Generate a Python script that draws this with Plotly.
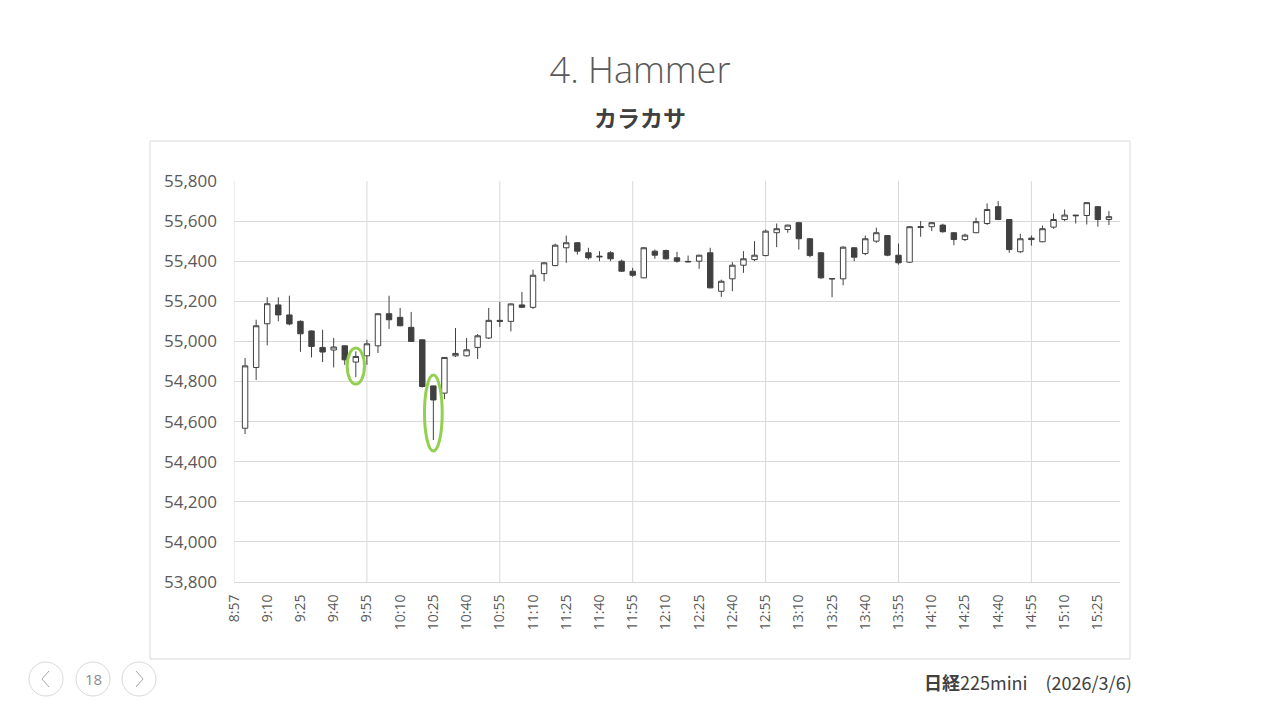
"""Hammer (カラカサ) candlestick slide, Nikkei 225 mini 5-minute bars."""

import plotly.graph_objects as go

# category axis: 8:57 (empty), 9:00 ... 15:30 bars, 15:35 (empty right edge)
bar_times = [f"{h}:{m:02d}" for h in range(9, 16) for m in range(0, 60, 5)][:79]
categories = ["8:57"] + bar_times + ["15:35"]
tick_labels = categories[0::3]
hour_grid = categories[0::12]

opens = [
    54567, 54870, 55088, 55182, 55132, 55100, 55052, 54970, 54957, 54978,
    54897, 54928, 54978, 55138, 55120, 55070, 55008, 54778, 54742, 54928,
    54928, 54970, 55017, 55105, 55100, 55182, 55170, 55338, 55378, 55467,
    55492, 55442, 55425, 55442, 55400, 55350, 55317, 55450, 55453, 55417,
    55399, 55400, 55442, 55250, 55312, 55380, 55408, 55428, 55542, 55558,
    55592, 55512, 55442, 55313, 55312, 55467, 55438, 55500, 55528, 55430,
    55395, 55568, 55572, 55580, 55542, 55508, 55542, 55588, 55672, 55608,
    55447, 55515, 55497, 55570, 55608, 55630, 55628, 55672, 55608,
]
highs = [
    54917, 55108, 55220, 55220, 55228, 55105, 55055, 55058, 55017, 54980,
    54950, 55008, 55140, 55228, 55167, 55147, 55010, 54780, 54922, 55067,
    55017, 55037, 55167, 55197, 55190, 55247, 55358, 55395, 55488, 55528,
    55495, 55467, 55450, 55450, 55408, 55367, 55470, 55458, 55458, 55447,
    55428, 55432, 55467, 55308, 55395, 55450, 55500, 55558, 55588, 55582,
    55595, 55515, 55445, 55315, 55475, 55470, 55528, 55567, 55530, 55488,
    55575, 55600, 55595, 55587, 55545, 55537, 55617, 55688, 55700, 55610,
    55537, 55528, 55578, 55638, 55658, 55631, 55695, 55675, 55650,
]
lows = [
    54538, 54808, 54980, 55100, 55080, 54948, 54920, 54897, 54870, 54883,
    54822, 54883, 54942, 55062, 55075, 54998, 54770, 54508, 54712, 54922,
    54925, 54912, 55012, 55072, 55050, 55168, 55162, 55300, 55375, 55392,
    55433, 55408, 55400, 55400, 55347, 55322, 55315, 55412, 55408, 55392,
    55395, 55362, 55265, 55222, 55250, 55342, 55400, 55425, 55470, 55542,
    55458, 55420, 55312, 55220, 55280, 55400, 55430, 55492, 55425, 55383,
    55392, 55522, 55550, 55542, 55480, 55500, 55540, 55580, 55605, 55442,
    55442, 55478, 55495, 55562, 55600, 55588, 55583, 55572, 55580,
]
closes = [
    54878, 55078, 55188, 55132, 55087, 55038, 54975, 54947, 54972, 54908,
    54925, 54988, 55138, 55108, 55078, 55000, 54775, 54708, 54920, 54940,
    54958, 55028, 55105, 55100, 55187, 55170, 55330, 55392, 55480, 55492,
    55450, 55417, 55422, 55412, 55350, 55330, 55467, 55430, 55412, 55400,
    55397, 55430, 55267, 55300, 55380, 55412, 55430, 55550, 55562, 55580,
    55512, 55428, 55317, 55312, 55470, 55420, 55512, 55542, 55430, 55392,
    55572, 55572, 55592, 55547, 55508, 55530, 55597, 55658, 55608, 55458,
    55512, 55508, 55562, 55608, 55630, 55627, 55692, 55608, 55622,
]
hammer_bars = ["9:50", "10:25"]

INK = "#404040"
TEXT = "#595959"
GRID = "#d9d9d9"

OFF = 8  # page body margin
# plot area in screen pixels (left, top, right, bottom)
L, T, R, B = 234, 181, 1120, 582


def px(x):
    return (x - L) / (R - L)


def py(y):
    return (B - y) / (B - T)


xpos = [categories.index(t) for t in bar_times]

fig = go.Figure(
    go.Candlestick(
        x=xpos,
        open=opens,
        high=highs,
        low=lows,
        close=closes,
        increasing=dict(fillcolor="white", line=dict(color=INK, width=1)),
        decreasing=dict(fillcolor=INK, line=dict(color=INK, width=1)),
        whiskerwidth=0,
        showlegend=False,
        hoverinfo="x+y",
    )
)

shapes = [
    # chart frame
    dict(type="rect", xref="paper", yref="paper", x0=px(150), x1=px(1130),
         y0=py(659), y1=py(141), line=dict(color="#d9d9d9", width=1), layer="below"),
]
for t in hour_grid:
    shapes.append(dict(type="line", xref="x", yref="paper", x0=categories.index(t),
                       x1=categories.index(t), y0=0, y1=1,
                       line=dict(color=GRID, width=1), layer="below"))

# green ellipses around hammer candles
pads = [(0.78, 35, 17), (0.8, 55, 52)]
for t, (dx, lo_pad, hi_pad) in zip(hammer_bars, pads):
    i = bar_times.index(t)
    xc = categories.index(t)
    shapes.append(dict(type="circle", xref="x", yref="y", x0=xc - dx, x1=xc + dx,
                       y0=lows[i] - lo_pad, y1=highs[i] + hi_pad,
                       line=dict(color="#92d050", width=3)))

# navigation circles and chevrons
for cx in (46, 93, 139):
    shapes.append(dict(type="circle", xref="paper", yref="paper",
                       x0=px(cx - 17), x1=px(cx + 17), y0=py(679 + 17), y1=py(679 - 17),
                       line=dict(color="#d9d9d9", width=1)))
for cx, d in ((46, 1), (139, -1)):
    shapes.append(dict(type="path", xref="paper", yref="paper",
                       path=(f"M {px(cx + 3 * d)} {py(671)} L {px(cx - 4 * d)} {py(679)} "
                             f"L {px(cx + 3 * d)} {py(687)}"),
                       line=dict(color="#a6a6a6", width=1)))

annotations = [
    dict(text="<b>カラカサ</b>", x=px(640), y=py(117), xref="paper", yref="paper",
         showarrow=False, font=dict(size=23, color=INK, family="Noto Sans CJK JP"),
         xanchor="center", yanchor="middle"),
    dict(text="<b>日経</b>225mini　(2026/3/6)", x=px(1134), y=py(682),
         xref="paper", yref="paper", showarrow=False, xanchor="right", yanchor="middle",
         font=dict(size=18, color=INK, family="Noto Sans CJK JP")),
    dict(text="18", x=px(93), y=py(679), xref="paper", yref="paper",
         showarrow=False, xanchor="center", yanchor="middle",
         font=dict(size=15, color="#8c8c8c", family="Open Sans")),
]

fig.update_layout(
    width=1280,
    height=720,
    margin=dict(l=L - OFF, r=1280 - R + OFF, t=T - OFF, b=720 - B + OFF),
    paper_bgcolor="white",
    plot_bgcolor="white",
    font=dict(family="Open Sans", color=TEXT),
    title=dict(text="4. Hammer", x=(640 - OFF) / 1280, xanchor="center",
               y=1 - (70 - OFF) / 720, yanchor="middle",
               font=dict(size=36, color=TEXT, family="Open Sans", weight=300)),
    xaxis=dict(
        range=[0, len(categories) - 1],
        tickmode="array",
        tickvals=[categories.index(t) for t in tick_labels],
        ticktext=tick_labels,
        tickangle=-90,
        tickfont=dict(size=14, color=TEXT),
        showgrid=False,
        showline=True,
        linecolor=GRID,
        zeroline=False,
        rangeslider=dict(visible=False),
        ticks="",
        ticklabelstandoff=6,
    ),
    yaxis=dict(
        range=[53800, 55800],
        dtick=200,
        tickformat=",",
        tickfont=dict(size=17, color=TEXT),
        gridcolor=GRID,
        showline=False,
        zeroline=False,
        ticks="",
        ticklabelstandoff=16,
    ),
    shapes=shapes,
    annotations=annotations,
)

fig.write_html("out.html")
